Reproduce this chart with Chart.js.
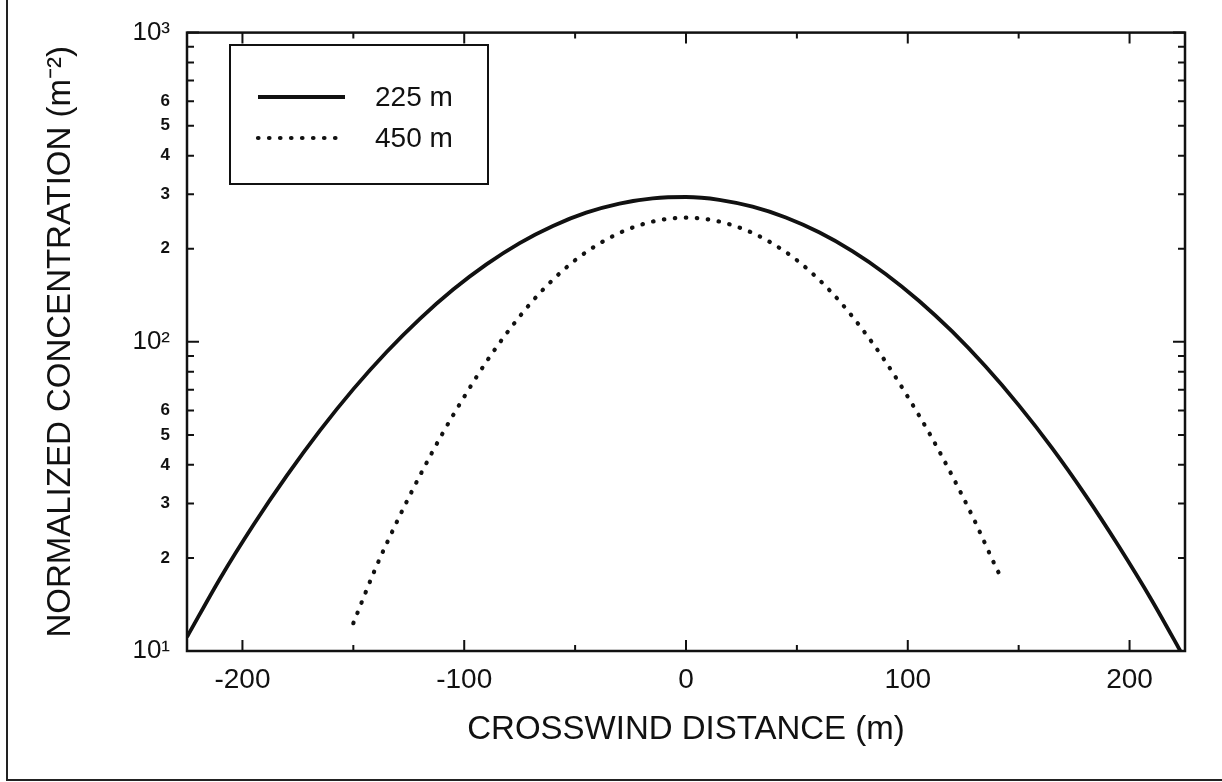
<!DOCTYPE html>
<html>
<head>
<meta charset="utf-8">
<script src="https://cdn.jsdelivr.net/npm/chart.js@4/dist/chart.umd.min.js"></script>
<style>
  body { margin: 0; background: #fff; }
  #caja { position: relative; width: 1222px; height: 782px; }
  #marco { position: absolute; left: 6px; top: 0; width: 1216px; height: 779px;
           border-left: 2px solid #222; border-bottom: 2px solid #222; }
  #grafica { position: absolute; left: 0; top: 0; }
</style>
</head>
<body>
<div id="caja">
  <div id="marco"></div>
  <canvas id="grafica" width="1222" height="782"></canvas>
</div>
<script>
// datos
const X_225 = [-225,-210,-195,-180,-165,-150,-135,-120,-105,-90,-75,-60,-45,-30,-15,0,
               15,30,45,60,75,90,105,120,135,150,165,180,195,210,225];
const C_225 = [11.1,17.2,25.6,36.9,51.7,70.3,92.7,118.7,147.6,178,208.6,237,261.6,280,291,294,
               288,273.5,252.4,226,196.5,165.8,135.8,108,83.3,62.4,45.4,32,21.9,14.6,9.4];

const X_450 = [-150,-140,-130,-120,-110,-100,-90,-80,-70,-60,-50,-40,-30,-20,-10,0,
               10,20,30,40,50,60,70,80,90,100,110,120,130,140,143];
const C_450 = [12.3,18.5,26.5,36.9,50.2,66.4,86.2,108.6,133.4,158.8,183.6,205.8,224.9,239.5,248.8,252,
               248.8,239.5,224.9,205.8,183.6,158.8,133.4,108.6,86.2,66.4,50.2,36.9,26.5,18.5,16.8];

const ETIQUETAS = ["225 m", "450 m"];
const TICKS_X = [-200,-150,-100,-50,0,50,100,150,200];
const TICKS_Y = [10,20,30,40,50,60,70,80,90,100,200,300,400,500,600,700,800,900,1000];
const SUPER = {1: "\u00b9", 2: "\u00b2", 3: "\u00b3"};
const FUENTE = "'Liberation Sans', Arial, Helvetica, sans-serif";

function puntos(xs, ys) {
  return xs.map((x, i) => ({x: x, y: ys[i]}));
}

function exponente(v) {
  return Math.floor(Math.log10(v) + 1e-9);
}

function mantisa(v) {
  return Math.round(v / Math.pow(10, exponente(v)));
}

function esMayor(v) {
  return mantisa(v) === 1;
}

// ticks hacia dentro, en los cuatro lados, y el recuadro
const marcasDentro = {
  id: "marcasDentro",
  afterDatasetsDraw(chart) {
    const {ctx, chartArea: a, scales: {x, y}} = chart;
    ctx.save();
    ctx.strokeStyle = "#111";
    ctx.lineWidth = 2;
    ctx.beginPath();
    x.ticks.forEach(t => {
      const px = x.getPixelForValue(t.value);
      const l = t.value % 100 === 0 ? 11 : 6;
      ctx.moveTo(px, a.bottom); ctx.lineTo(px, a.bottom - l);
      ctx.moveTo(px, a.top); ctx.lineTo(px, a.top + l);
    });
    y.ticks.forEach(t => {
      const py = y.getPixelForValue(t.value);
      const l = esMayor(t.value) ? 12 : 7;
      ctx.moveTo(a.left, py); ctx.lineTo(a.left + l, py);
      ctx.moveTo(a.right, py); ctx.lineTo(a.right - l, py);
    });
    ctx.stroke();
    ctx.lineWidth = 2.5;
    ctx.strokeRect(a.left, a.top, a.right - a.left, a.bottom - a.top);
    ctx.restore();
  }
};

// leyenda con recuadro
const leyendaCaja = {
  id: "leyendaCaja",
  afterDraw(chart) {
    const ctx = chart.ctx;
    const ds = chart.data.datasets;
    ctx.save();
    ctx.fillStyle = "#fff";
    ctx.fillRect(230, 45, 258, 139);
    ctx.strokeStyle = "#111";
    ctx.lineWidth = 2;
    ctx.strokeRect(230, 45, 258, 139);
    const filas = [97, 138];
    ds.forEach((d, i) => {
      ctx.beginPath();
      ctx.strokeStyle = d.borderColor;
      ctx.lineWidth = d.borderWidth;
      ctx.lineCap = d.borderCapStyle || "butt";
      ctx.setLineDash(d.borderDash || []);
      ctx.moveTo(258, filas[i]);
      ctx.lineTo(345, filas[i]);
      ctx.stroke();
      ctx.setLineDash([]);
      ctx.fillStyle = "#111";
      ctx.font = "28px " + FUENTE;
      ctx.textBaseline = "middle";
      ctx.fillText(d.label, 375, filas[i] + 1);
    });
    ctx.restore();
  }
};

new Chart(document.getElementById("grafica"), {
  type: "line",
  data: {
    datasets: [
      {
        label: ETIQUETAS[0],
        data: puntos(X_225, C_225),
        borderColor: "#111",
        borderWidth: 3.8,
        pointRadius: 0,
        cubicInterpolationMode: "monotone",
        fill: false
      },
      {
        label: ETIQUETAS[1],
        data: puntos(X_450, C_450),
        borderColor: "#111",
        borderWidth: 4.2,
        borderDash: [0.5, 10.5],
        borderCapStyle: "round",
        pointRadius: 0,
        cubicInterpolationMode: "monotone",
        fill: false
      }
    ]
  },
  options: {
    responsive: false,
    animation: false,
    devicePixelRatio: 1,
    layout: { padding: { left: 0, top: 22, right: 37, bottom: 0 } },
    plugins: { legend: { display: false }, tooltip: { enabled: false } },
    scales: {
      x: {
        type: "linear",
        min: -225,
        max: 225,
        afterFit: s => { s.height = 131; },
        afterBuildTicks: s => { s.ticks = TICKS_X.map(v => ({value: v})); },
        grid: { display: false, drawTicks: false },
        border: { display: false },
        ticks: {
          autoSkip: false,
          maxRotation: 0,
          padding: 12,
          color: "#111",
          font: { family: FUENTE, size: 28 },
          callback: v => (v % 100 === 0 ? String(v) : "")
        },
        title: {
          display: true,
          text: "CROSSWIND DISTANCE (m)",
          color: "#111",
          font: { family: FUENTE, size: 33 },
          padding: { top: 0, bottom: 32 }
        }
      },
      y: {
        type: "logarithmic",
        min: 10,
        max: 1000,
        afterFit: s => { s.width = 187; },
        afterBuildTicks: s => { s.ticks = TICKS_Y.map(v => ({value: v, major: esMayor(v)})); },
        grid: { display: false, drawTicks: false },
        border: { display: false },
        ticks: {
          autoSkip: false,
          padding: 17,
          color: "#111",
          font: c => (c.tick && esMayor(c.tick.value)
            ? { family: FUENTE, size: 26 }
            : { family: FUENTE, size: 17, weight: "bold" }),
          callback: v => {
            if (esMayor(v)) return "10" + SUPER[exponente(v)];
            const m = mantisa(v);
            return m <= 6 ? String(m) : "";
          }
        },
        title: {
          display: true,
          text: "NORMALIZED CONCENTRATION (m\u207b\u00b2)",
          color: "#111",
          font: { family: FUENTE, size: 33 },
          padding: { top: 41, bottom: 0 }
        }
      }
    }
  },
  plugins: [marcasDentro, leyendaCaja]
});
</script>
</body>
</html>
